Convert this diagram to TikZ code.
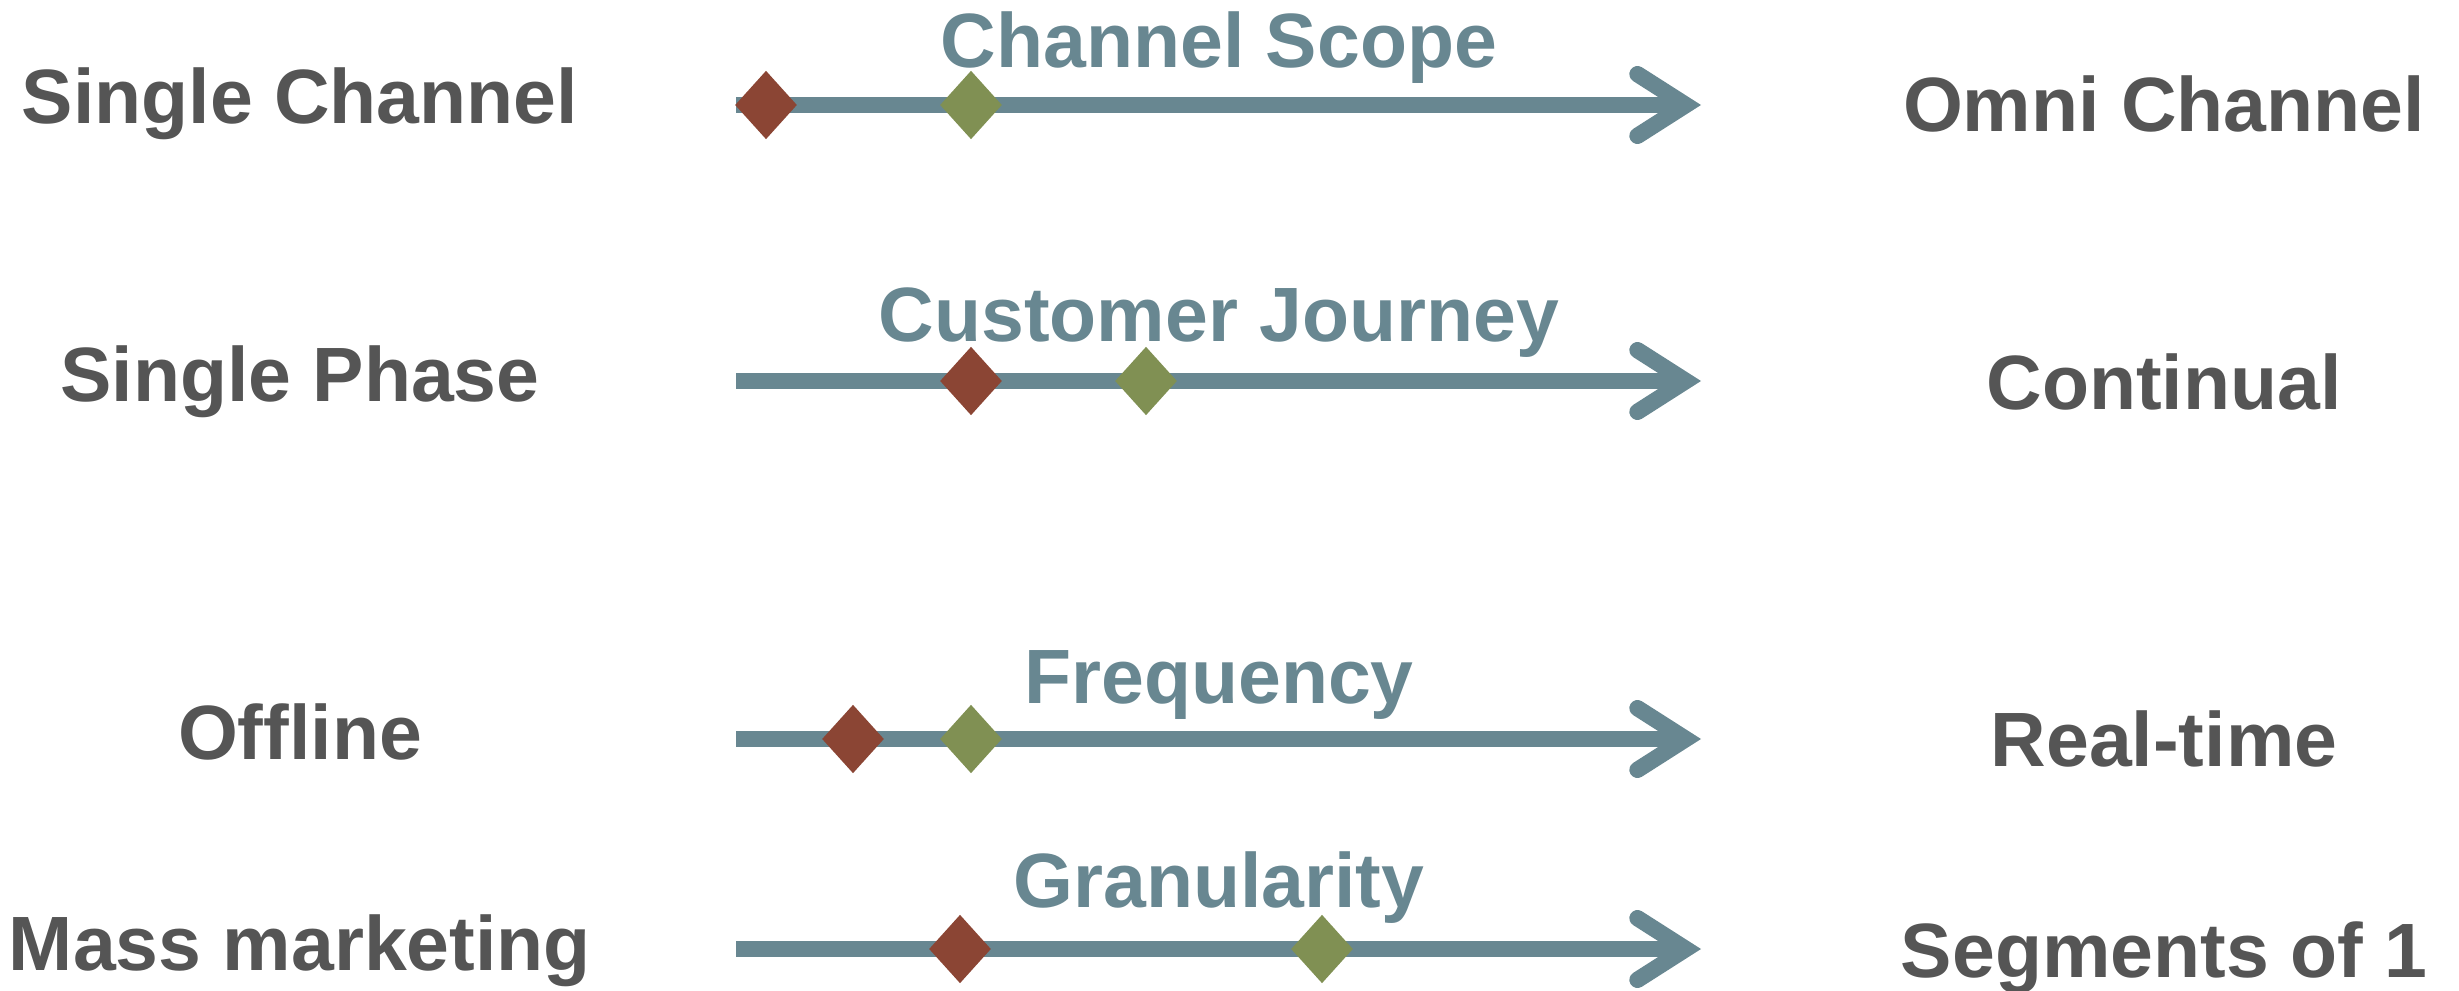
\documentclass[tikz,border=0pt]{standalone}
\usepackage{fontspec}
\setmainfont{Liberation Sans}
\usetikzlibrary{arrows.meta,shapes.geometric}

\definecolor{axisblue}{RGB}{104,135,145}
\definecolor{labelgray}{RGB}{85,85,85}
\definecolor{nowred}{RGB}{139,69,52}
\definecolor{goalgreen}{RGB}{128,144,83}

\tikzset{every picture/.style={line width=0.75pt}}
\tikzset{
  axis/.style={draw=axisblue, line width=4.9pt,
    -{Straight Barb[length=14.5pt,width=18.5pt,line cap=round,line join=miter]}},
  marker/.style={diamond, draw=none, inner sep=0pt, minimum width=18.8pt, minimum height=20.8pt},
  endlabel/.style={anchor=base, inner sep=0pt, text=labelgray,
    font=\bfseries\fontsize{23.1}{27}\selectfont},
  axislabel/.style={endlabel, text=axisblue},
}

\begin{document}
\begin{tikzpicture}[x=0.3pt,y=0.3pt,yscale=-1,xscale=1]
\useasboundingbox (0,0) rectangle (2459,991);

%Straight Lines
\coordinate (scope-a) at (736,105);
\coordinate (scope-b) at (1701,105);
\draw [axis] (scope-a) -- (scope-b);
\node [marker, fill=nowred] (scope-now) at (766,105) {};
\node [marker, fill=goalgreen] (scope-goal) at (971,105) {};

%Straight Lines
\coordinate (journey-a) at (736,381);
\coordinate (journey-b) at (1701,381);
\draw [axis] (journey-a) -- (journey-b);
\node [marker, fill=nowred] (journey-now) at (971,381) {};
\node [marker, fill=goalgreen] (journey-goal) at (1146,381) {};

%Straight Lines
\coordinate (freq-a) at (736,739);
\coordinate (freq-b) at (1701,739);
\draw [axis] (freq-a) -- (freq-b);
\node [marker, fill=nowred] (freq-now) at (853,739) {};
\node [marker, fill=goalgreen] (freq-goal) at (971,739) {};

%Straight Lines
\coordinate (gran-a) at (736,949);
\coordinate (gran-b) at (1701,949);
\draw [axis] (gran-a) -- (gran-b);
\node [marker, fill=nowred] (gran-now) at (960,949) {};
\node [marker, fill=goalgreen] (gran-goal) at (1322,949) {};

% Text Node
\node [axislabel] (scope-title) at (1219,68) {Channel Scope};
\node [endlabel] (scope-from) at (300,124) {Single Channel};
\node [endlabel] (scope-to) at (2164,132) {Omni Channel};
% Text Node
\node [axislabel] (journey-title) at (1219,342) {Customer Journey};
\node [endlabel] (journey-from) at (300,402) {Single Phase};
\node [endlabel] (journey-to) at (2164,410) {Continual};
% Text Node
\node [axislabel] (freq-title) at (1219,703) {Frequency};
\node [endlabel] (freq-from) at (300,759) {Offline};
\node [endlabel] (freq-to) at (2164,766) {Real-time};
% Text Node
\node [axislabel] (gran-title) at (1219,907) {Granularity};
\node [endlabel] (gran-from) at (300,970) {Mass marketing};
\node [endlabel] (gran-to) at (2164,977) {Segments of 1};

\end{tikzpicture}
\end{document}
